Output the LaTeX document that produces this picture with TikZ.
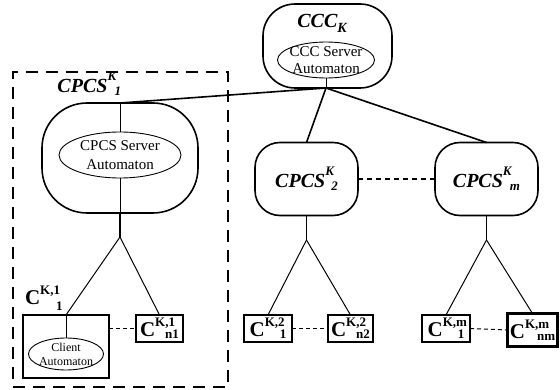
\documentclass[tikz,border=0pt]{standalone}
\usepackage{fontspec}
\setmainfont{Liberation Serif}
\usetikzlibrary{shapes.geometric}
\newcommand\fsz[1]{\fontsize{#1}{#1}\selectfont}
\newcommand\cpcs[2]{{\fsz{20}\bfseries\itshape CPCS}\makebox[0pt][l]{\raisebox{12pt}{\fsz{13}\bfseries\itshape K}}\hspace{#2}\raisebox{-3pt}{\fsz{13}\bfseries\itshape #1}}
\newcommand\clab[4]{{\fsz{21}\bfseries C}\makebox[0pt][l]{\raisebox{10pt}{\fsz{13}\bfseries #1}}\hspace{#3}\raisebox{#4}{\fsz{13}\bfseries #2}}
\begin{document}
\begin{tikzpicture}[x=1pt,y=-1pt,
  every node/.style={inner sep=0pt,outer sep=0pt},
  blob/.style={draw,line width=1.6pt,rounded corners=#1},
  aut/.style={draw,ellipse,line width=0.9pt},
  cbox/.style={draw,line width=1.8pt,minimum height=27pt},
  conn/.style={line width=1.6pt},
  thinl/.style={line width=0.9pt},
  stem/.style={line width=1.3pt},
  fork/.style={line width=1pt},
  smalldash/.style={line width=1pt,dash pattern=on 4pt off 3pt},
  bigdash/.style={line width=1.3pt,dash pattern=on 5pt off 4pt},
  grpbox/.style={draw,line width=1.3pt,dash pattern=on 12pt off 8pt}]
\useasboundingbox (0,0) rectangle (560,390);

% group box
\node[grpbox,minimum width=215pt,minimum height=315pt] (grp) at (120.5,229.5) {};

% CCC
\node[blob=32pt,minimum width=129pt,minimum height=84pt] (ccc) at (327.5,46) {};
\node[anchor=base] (ccclab) at (322,28) {\fsz{20}\bfseries\itshape CCC\raisebox{-5pt}{\fsz{14}K}};
\node[aut,minimum width=97pt,minimum height=36pt,
  label={[font=\fontsize{15}{17}\selectfont,align=center]center:CCC Server\\Automaton}] (cccaut) at (326,60) {};
\coordinate (j) at (326,88);

% CPCS nodes
\node[blob=45pt,minimum width=156pt,minimum height=110pt] (cp1) at (120,158) {};
\node[anchor=base east] (cp1lab) at (121,93) {\cpcs{1}{7pt}};
\node[aut,minimum width=122pt,minimum height=46pt,
  label={[font=\fontsize{15}{19}\selectfont,align=center]center:CPCS Server\\Automaton}] (cp1aut) at (120,155) {};
\node[blob=25pt,minimum width=103pt,minimum height=73pt] (cp2) at (306.5,179) {\cpcs{2}{6pt}};
\node[blob=25pt,minimum width=103pt,minimum height=73pt] (cpm) at (486.5,179) {\cpcs{m}{7pt}};

% connectors from CCC
\draw[thinl] (cccaut.south) -- (j);
\draw[conn] (j) -- (cp1.north);
\draw[conn] (j) -- (cp2.north);
\draw[conn] (j) -- (cpm.north);
\draw[bigdash] (cp2.east) -- (cpm.west);

% inside CPCS1
\draw[thinl] (cp1.north) -- (cp1aut.north);
\draw[thinl] (cp1aut.south) -- (cp1.south);

% forks
\coordinate (f1) at (120,237);
\coordinate (f2) at (306.5,240);
\coordinate (fm) at (486.5,240);
\draw[stem] (cp1.south) -- (f1);
\draw[stem] (cp2.south) -- (f2);
\draw[stem] (cpm.south) -- (fm);

% client boxes
\node[draw,line width=1.8pt,minimum width=86pt,minimum height=63pt] (c11) at (66,346.5) {};
\node[anchor=base west] (c11lab) at (25,305) {\clab{K,1}{1}{16pt}{-6pt}};
\node[aut,minimum width=75pt,minimum height=32pt,
  label={[font=\fontsize{12}{14}\selectfont,align=center]center:Client\\Automaton}] (claut) at (66,354) {};
\draw[thinl] (c11.north) -- (claut.north);
\node[cbox,minimum width=47pt] (c1n) at (159.5,328.5) {\clab{K,1}{n1}{10pt}{-2pt}};
\node[cbox,minimum width=48pt] (c21) at (268,328.5) {\clab{K,2}{1}{15pt}{-2pt}};
\node[cbox,minimum width=45pt] (c2n) at (350.5,328.5) {\clab{K,2}{n2}{10pt}{-2pt}};
\node[cbox,minimum width=48pt] (cm1) at (446,328.5) {\clab{K,m}{1}{15pt}{-2pt}};
\node[draw,line width=2.6pt,minimum width=50pt,minimum height=33pt] (cmn) at (532.5,330) {\clab{K,m}{nm}{12pt}{-2pt}};

\draw[fork] (f1) -- (c11.north);
\draw[fork] (f1) -- (c1n.north);
\draw[fork] (f2) -- (c21.north);
\draw[fork] (f2) -- (c2n.north);
\draw[fork] (fm) -- (cm1.north);
\draw[fork] (fm) -- (cmn.north);

\draw[smalldash] (c1n.west -| c11.east) -- (c1n.west);
\draw[smalldash] (c21.east) -- (c2n.west);
\draw[smalldash] (cm1.east) -- (cmn.west);
\end{tikzpicture}
\end{document}
